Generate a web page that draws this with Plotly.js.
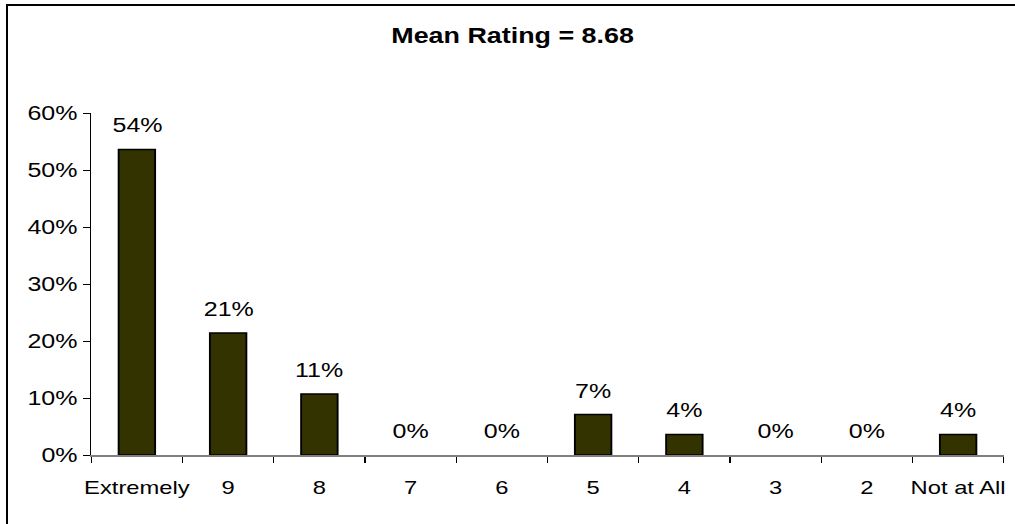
<!DOCTYPE html>
<html>
<head>
<meta charset="utf-8">
<script src="https://cdn.plot.ly/plotly-3.0.1.min.js"></script>
<style>
  html, body { margin: 0; padding: 0; background: #ffffff; overflow: hidden; }
  #wrap { position: relative; width: 1015px; height: 524px; overflow: hidden; background: #fff; }
  #chart { position: absolute; left: 0; top: 0; width: 812px; height: 524px; transform: scaleX(1.25); transform-origin: 0 0; }
  #frame { position: absolute; left: 6px; top: 4px; width: 2000px; height: 2000px; border-top: 2px solid #000; border-left: 2px solid #000; pointer-events: none; }
</style>
</head>
<body>
<div id="wrap">
  <div id="chart"></div>
  <div id="frame"></div>
</div>
<script>
const categories = ['Extremely', '9', '8', '7', '6', '5', '4', '3', '2', 'Not at All'];
const percentValues = [53.6, 21.4, 10.7, 0, 0, 7.1, 3.6, 0, 0, 3.6];
const chartTitle = 'Mean Rating = 8.68';

const FONT = 'Liberation Sans, Arial, sans-serif';

const trace = {
  type: 'bar',
  x: categories,
  y: percentValues,
  marker: {
    color: '#333300',
    line: { color: '#000000', width: percentValues.map(v => (v > 0 ? 1.5 : 0)) }
  },
  hoverinfo: 'skip'
};

const annotations = categories.map((c, i) => ({
  x: i,
  y: percentValues[i],
  xref: 'x',
  yref: 'y',
  text: Math.round(percentValues[i]) + '%',
  showarrow: false,
  xanchor: 'center',
  yanchor: 'bottom',
  yshift: 11,
  font: { family: FONT, size: 20, color: '#000' }
}));

const layout = {
  width: 812,
  height: 524,
  margin: { l: 73, r: 9, t: 113, b: 69, pad: 0 },
  paper_bgcolor: 'rgba(0,0,0,0)',
  plot_bgcolor: '#ffffff',
  showlegend: false,
  bargap: 0.6,
  title: {
    text: '<b>' + chartTitle + '</b>',
    font: { family: FONT, size: 21.5, color: '#000' },
    x: 0.505, xanchor: 'center', xref: 'container',
    y: 1 - 35 / 524, yanchor: 'middle', yref: 'container'
  },
  xaxis: {
    type: 'category',
    showline: true,
    linecolor: '#808080',
    linewidth: 1.5,
    ticks: 'outside',
    tickson: 'boundaries',
    ticklen: 6,
    tickcolor: '#000',
    tickwidth: 1,
    tickangle: 0,
    showgrid: false,
    zeroline: false,
    ticklabelstandoff: 15,
    tickfont: { family: FONT, size: 19, color: '#000' },
    fixedrange: true
  },
  yaxis: {
    range: [0, 60],
    dtick: 10,
    tick0: 0,
    ticksuffix: '%',
    showline: true,
    linecolor: '#000',
    linewidth: 1,
    ticks: 'outside',
    ticklen: 6,
    tickcolor: '#000',
    tickwidth: 1,
    showgrid: false,
    zeroline: false,
    tickfont: { family: FONT, size: 20, color: '#000' },
    fixedrange: true
  },
  annotations: annotations
};

Plotly.newPlot('chart', [trace], layout, { displayModeBar: false, staticPlot: true });
</script>
</body>
</html>
